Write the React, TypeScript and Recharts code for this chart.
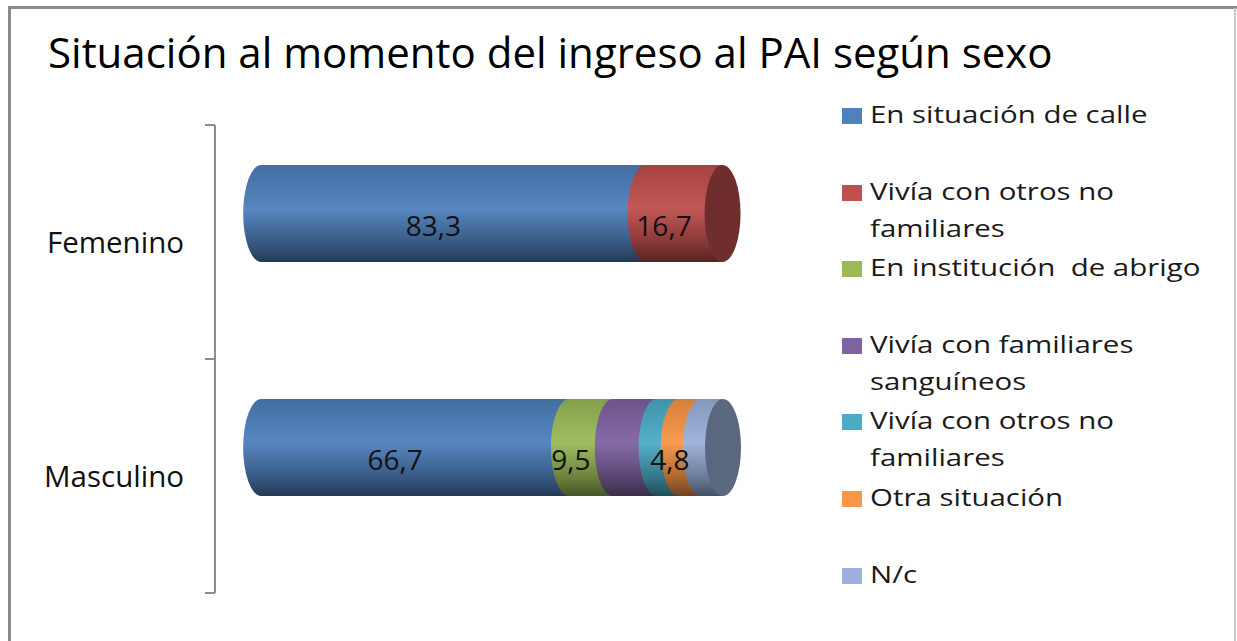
import React from 'react';
import { BarChart, Bar, XAxis, YAxis, Legend, LabelList } from 'recharts';

const categories = ['Femenino', 'Masculino'];
const seriesKeys = ['s1', 's2', 's3', 's4', 's5', 's6', 's7'];
const seriesNames = [
  'En situación de calle',
  'Vivía con otros no familiares',
  'En institución  de abrigo',
  'Vivía con familiares sanguíneos',
  'Vivía con otros no familiares',
  'Otra situación',
  'N/c',
];
const seriesColors = ['#4F81BD', '#C0504D', '#9BBB59', '#8064A2', '#4BACC6', '#F79646', '#9BB1DB'];
const femeninoValues = [83.3, 16.7, 0, 0, 0, 0, 0];
const masculinoValues = [66.7, 0, 9.5, 9.5, 4.8, 4.8, 4.8];
const labelShown = [true, true, true, false, false, true, false];
const title = 'Situación al momento del ingreso al PAI según sexo';

const rows = [femeninoValues, masculinoValues];
const data = categories.map((c, i) => {
  const o: any = { category: c };
  seriesKeys.forEach((k, j) => (o[k] = rows[i][j]));
  return o;
});

const W = 1237;
const H = 641;
const M_TOP = 125;
const M_BOTTOM = 48;
const Y_AXIS_W = 215;
const M_RIGHT = 514;
const BAR_SHIFT = -29;
const RX = 18;
const FONT = '"Open Sans", sans-serif';
const BAND = (H - M_TOP - M_BOTTOM) / categories.length;

function mix(hex: string, f: number, target = 0) {
  const n = parseInt(hex.slice(1), 16);
  const r = (n >> 16) & 255, g = (n >> 8) & 255, b = n & 255;
  const m = (v: number) => Math.round(v * f + target * (1 - f));
  return `rgb(${m(r)},${m(g)},${m(b)})`;
}

function Cylinder(props: any) {
  const { x, y, width, height, fill, dataKey, payload } = props;
  if (!width || width <= 0) return null;
  const idx = seriesKeys.indexOf(dataKey);
  const isLast = seriesKeys.slice(idx + 1).every((k) => !payload[k]);
  const top = y + BAR_SHIFT;
  const ry = height / 2;
  const x0 = x;
  const x1 = x + width;
  const gid = `grad-${dataKey}-${payload.category}`;
  const d = `M${x1},${top} L${x0},${top} A${RX},${ry} 0 0 0 ${x0},${top + height} L${x1},${top + height} Z`;
  return (
    <g>
      <defs>
        <linearGradient id={gid} x1="0" y1="0" x2="0" y2="1">
          <stop offset="0" stopColor={mix(fill, 0.85)} />
          <stop offset="0.12" stopColor={mix(fill, 0.9)} />
          <stop offset="0.45" stopColor={mix(fill, 0.95, 255)} />
          <stop offset="0.8" stopColor={mix(fill, 0.7)} />
          <stop offset="1" stopColor={mix(fill, 0.45)} />
        </linearGradient>
      </defs>
      <path d={d} fill={`url(#${gid})`} />
      {isLast && <ellipse cx={x1} cy={top + ry} rx={RX} ry={ry} fill={mix(fill, 0.58)} />}
    </g>
  );
}

function makeLabel(show: boolean) {
  return (props: any) => {
    const { x, y, width, height, value } = props;
    if (!show || !value || value <= 0) return null;
    return (
      <text
        x={x + width / 2 - 20}
        y={y + BAR_SHIFT + height / 2 + 22}
        textAnchor="middle"
        fontFamily={FONT}
        fontSize={28}
        fill="#111"
      >
        {Number(value).toFixed(1).replace('.', ',')}
      </text>
    );
  };
}

function CategoryTick(props: any) {
  const { y, payload, index } = props;
  const ax = Y_AXIS_W;
  return (
    <g>
      <text x={ax - 31} y={y + 11} textAnchor="end" fontFamily={FONT} fontSize={29.5} fill="#111">
        {payload.value}
      </text>
      <line x1={ax - 10} x2={ax} y1={y - BAND / 2} y2={y - BAND / 2} stroke="#8c8c8c" strokeWidth={2} />
      {index === categories.length - 1 && (
        <line x1={ax - 10} x2={ax} y1={y + BAND / 2} y2={y + BAND / 2} stroke="#8c8c8c" strokeWidth={2} />
      )}
    </g>
  );
}

function LegendContent(props: any) {
  const { payload } = props;
  return (
    <div style={{ fontFamily: FONT }}>
      {(payload || []).map((p: any, i: number) => (
        <div key={i} style={{ position: 'relative', height: 76.6 }}>
          <div
            style={{
              position: 'absolute',
              left: 0,
              top: 12,
              width: 20,
              height: 16,
              background: p.color,
            }}
          />
          <div
            style={{
              position: 'absolute',
              left: 28,
              top: 0,
              width: 268,
              fontSize: 23,
              lineHeight: '37px',
              color: '#1a1a1a',
              whiteSpace: 'pre-wrap',
              transform: 'scaleX(1.28)',
              transformOrigin: 'left top',
            }}
          >
            {p.value}
          </div>
        </div>
      ))}
    </div>
  );
}

export default function App() {
  return (
    <div
      style={{
        position: 'absolute',
        left: 0,
        top: 0,
        width: W,
        height: H,
        background: '#fff',
        overflow: 'hidden',
      }}
    >
      <div
        style={{
          position: 'absolute',
          left: 8,
          top: 6,
          width: W,
          height: H + 20,
          borderLeft: '3px solid #8a8a8a',
          borderTop: '3px solid #8a8a8a',
          boxSizing: 'border-box',
        }}
      />
      <div
        style={{
          position: 'absolute',
          left: W - 3,
          top: 8,
          width: 2,
          height: H,
          background: '#c8c8c8',
        }}
      />
      <div
        style={{
          position: 'absolute',
          left: 48,
          top: 31,
          fontFamily: FONT,
          fontSize: 42,
          lineHeight: '42px',
          color: '#000',
          whiteSpace: 'nowrap',
        }}
      >
        {title}
      </div>
      <div style={{ position: 'absolute', left: 0, top: 0 }}>
        <BarChart
          width={W}
          height={H}
          data={data}
          layout="vertical"
          barSize={97}
          margin={{ top: M_TOP, bottom: M_BOTTOM, left: 0, right: M_RIGHT }}
        >
          <XAxis type="number" domain={[-10, 100]} hide />
          <YAxis
            type="category"
            dataKey="category"
            width={Y_AXIS_W}
            axisLine={{ stroke: '#8c8c8c', strokeWidth: 2 }}
            tickLine={false}
            tick={<CategoryTick />}
            interval={0}
          />
          <Legend
            layout="vertical"
            align="center"
            verticalAlign="middle"
            itemSorter="dataKey"
            content={<LegendContent />}
            wrapperStyle={{ left: 842, top: 96, width: 390 }}
          />
          {seriesKeys.map((k, i) => (
            <Bar
              key={k}
              dataKey={k}
              name={seriesNames[i]}
              stackId="a"
              fill={seriesColors[i]}
              shape={<Cylinder />}
              isAnimationActive={false}
            >
              <LabelList dataKey={k} content={makeLabel(labelShown[i])} />
            </Bar>
          ))}
        </BarChart>
      </div>
    </div>
  );
}
